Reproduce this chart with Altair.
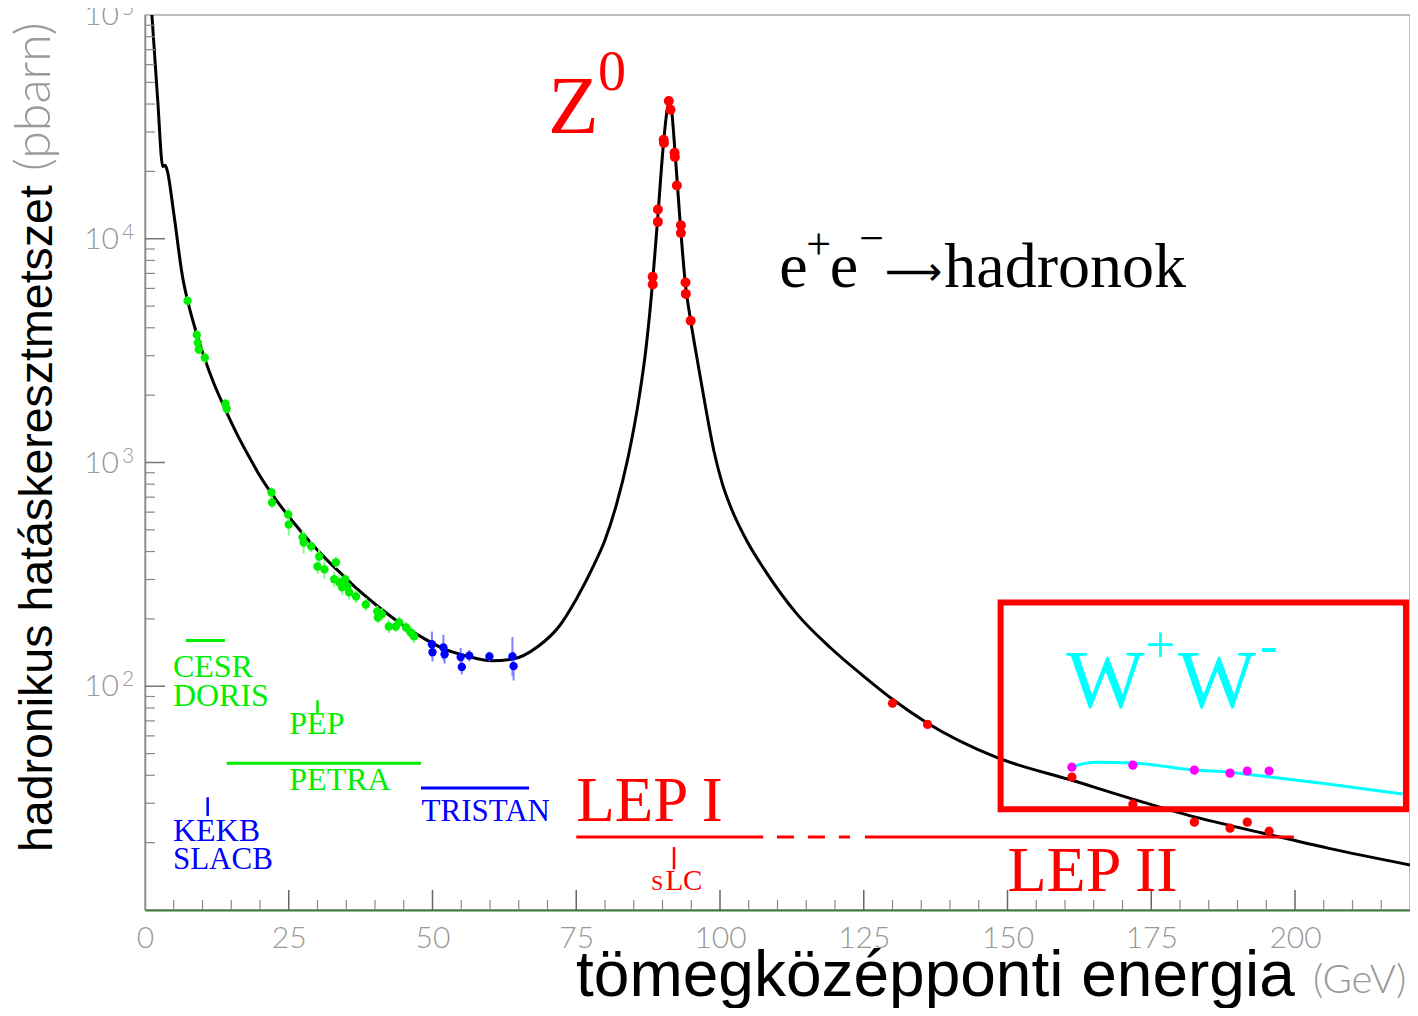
import altair as alt
import pandas as pd

# ---------------- data ----------------
curve_E = [1.2, 2.2, 3.1, 3.5, 3.9, 5.0, 6.6, 7.4, 9.0, 10.4, 12.0, 14.0, 16.0, 18.2, 20.0,
           22.2, 25.7, 28.6, 31.5, 34.3, 37.2, 40.1, 43.0, 45.9, 48.8, 52.2, 55.7, 60.3,
           63.8, 68.4, 72.0, 75.0, 78.0, 80.0, 82.0, 84.0, 86.0, 87.1, 88.3, 89.2, 90.2,
           90.8, 91.2, 91.6, 92.2, 93.0, 94.0, 94.9, 96.1, 97.5, 99.0, 100.4, 101.9, 104.8,
           107.7, 113.4, 119.2, 125.0, 130.0, 136.1, 148.0, 161.2, 171.8, 182.7, 194.3,
           205.7, 220.0]
curve_s = [100000, 42000, 21000, 21300, 20000, 13000, 6600, 5300, 3750, 2900, 2250, 1720,
           1340, 1050, 870, 715, 545, 445, 370, 315, 268, 232, 203, 180, 162, 146, 137, 130,
           132, 151, 185, 245, 345, 450, 650, 1050, 2000, 3190, 6500, 12700, 27200, 37500,
           41000, 37000, 24000, 12500, 6200, 4305, 2825, 1760, 1108, 805, 629, 440, 333, 210,
           148.6, 110.8, 87.5, 68.4, 48.2, 38.0, 31.3, 26.0, 22.1, 18.9, 15.9]

green_E = [7.4, 9.0, 9.2, 9.35, 10.4, 14.0, 14.2, 22.0, 22.1, 24.9, 25.0, 27.4, 27.6, 28.9,
           30.3, 30.0, 31.2, 33.2, 32.9, 33.8, 34.8, 34.3, 35.2, 35.5, 36.7, 38.4, 40.4,
           40.5, 41.2, 42.4, 43.6, 44.2, 45.4, 46.2, 46.8]
green_s = [5280, 3720, 3430, 3200, 2940, 1830, 1740, 734, 663, 586, 528, 463, 439, 422,
           380, 343, 333, 358, 301, 291, 301, 277, 279, 263, 252, 232, 216, 203, 210, 185,
           185, 193, 183, 174, 167]
green_err = [0.05, 0.05, 0.06, 0.05, 0.06, 0.05, 0.05, 0.06, 0.06, 0.07, 0.12, 0.07, 0.12,
             0.06, 0.08, 0.08, 0.1, 0.06, 0.08, 0.08, 0.06, 0.08, 0.06, 0.08, 0.07, 0.07,
             0.06, 0.06, 0.06, 0.07, 0.06, 0.06, 0.06, 0.07, 0.07]

blue_E = [49.9, 50.0, 51.9, 52.1, 54.9, 55.1, 56.4, 59.9, 63.9, 64.1]
blue_s = [154, 142, 149, 139, 135, 122, 137, 136, 136, 123]
blue_err = [0.14, 0.1, 0.14, 0.1, 0.1, 0.08, 0.06, 0.05, 0.22, 0.16]

zred_E = [88.3, 88.3, 89.2, 89.2, 90.2, 90.25, 91.1, 91.4, 92.1, 92.15, 92.5, 93.2, 93.2,
          94.0, 94.05, 94.9]
zred_s = [6760, 6240, 13500, 11900, 27700, 26800, 41300, 37700, 24200, 23200, 17300, 11500,
          10600, 6370, 5670, 4300]

lep_E = [130.0, 136.1, 161.2, 171.8, 182.5, 188.7, 191.7, 195.5]
lep_s = [84.0, 67.5, 39.3, 29.7, 24.7, 23.2, 24.7, 22.5]

ww_E = [161.2, 171.8, 182.5, 188.7, 191.7, 195.5]
ww_s = [43.5, 44.4, 42.2, 40.9, 41.8, 41.8]

wwcurve_E = [161.2, 163.0, 165.4, 171.8, 182.7, 188.7, 194.3, 205.7, 218.7]
wwcurve_s = [43.5, 45.0, 45.8, 45.4, 42.2, 41.3, 39.7, 36.6, 33.0]

# accelerator ranges (horizontal bars) and single-energy ticks
range_E1 = [7.1, 14.2, 48.0, 75.0, 125.2]
range_E2 = [13.9, 48.0, 66.8, 107.5, 199.8]
range_s = [160, 45.3, 35.1, 21.2, 21.2]
range_col = ["#00ee00", "#00ee00", "#0000ff", "#ff0000", "#ff0000"]

tick_E = [30.0, 10.9, 92.0]
tick_s1 = [75.7, 26.3, 15.2]
tick_s2 = [86.6, 31.9, 19.1]
tick_col = ["#00ee00", "#0000ff", "#ff0000"]

dash_E1 = [109.9]
dash_E2 = [122.6]
dash_s = [21.2]

# labels inside the plot
lab_text = ["Z", "0", "e", "+", "e", "\u2212", "hadronok",
            "CESR", "DORIS", "PEP", "PETRA", "KEKB", "SLACB", "TRISTAN",
            "LEP I", "LEP II", "S", "LC", "W", "+", "W", "-"]
lab_E = [70.1, 78.8, 110.3, 115.0, 119.1, 124.2, 139.0,
         4.85, 4.85, 25.1, 25.1, 4.85, 4.85, 48.1,
         75.0, 150.0, 88.0, 90.5, 160.2, 174.0, 179.6, 193.9]
lab_s = [29700, 46200, 6110, 8150, 6110, 8660, 6110,
         109.7, 81.5, 61, 34.4, 20.3, 15.2, 24.9,
         24.9, 12.2, 12.3, 12.3, 80.6, 128, 80.6, 127]
lab_col = ["#ff0000", "#ff0000", "#000000", "#000000", "#000000", "#000000", "#000000",
           "#00ee00", "#00ee00", "#00ee00", "#00ee00", "#0000ff", "#0000ff", "#0000ff",
           "#ff0000", "#ff0000", "#ff0000", "#ff0000", "#00ffff", "#00ffff", "#00ffff", "#00ffff"]
lab_size = [83, 56, 64, 44, 64, 44, 64,
            32, 32, 32, 32, 32, 31, 31,
            63, 64, 22, 29, 83, 53, 83, 53]

arrow_E = [128.7]
arrow_s = [6240]

box_E1, box_E2 = [148.8], [219.3]
box_s1, box_s2 = [28.2], [237]

x_label_values = [0, 25, 50, 75, 100, 125, 150, 175, 200]
x_major = [25, 50, 75, 100, 125, 150, 175, 200]
x_minor = [e for e in range(5, 220, 5) if e % 25 != 0]
y_major = [100, 1000, 10000]
y_minor = [m * d for d in [10, 100, 1000, 10000] for m in range(2, 10)]
y_label_vals = [100, 1000, 10000, 100000]
y_label_exp = ["2", "3", "4", "5"]

# ---------------- chart ----------------
xs = alt.Scale(domain=[0, 220], nice=False, zero=False)
ys = alt.Scale(type="log", domain=[10, 100000], nice=False)
X_AXIS = alt.Axis(values=x_label_values, ticks=False, grid=False,
                  domainColor="#3c7a3c", domainWidth=2,
                  labelFont="Lato", labelFontWeight=300, labelFontSize=30,
                  labelColor="#999999", labelPadding=13, title=None,
                  labelFlush=False, labelOverlap=False)
Y_AXIS = alt.Axis(labels=False, ticks=False, grid=False,
                  domainColor="#888888", domainWidth=1.5, title=None)


def X(f="E"):
    return alt.X(f"{f}:Q", scale=xs, axis=X_AXIS, title=None)


def Y(f="s"):
    return alt.Y(f"{f}:Q", scale=ys, axis=Y_AXIS, title=None)


curve = alt.Chart(pd.DataFrame({"E": curve_E, "s": curve_s})).mark_line(
    color="black", strokeWidth=3, interpolate="monotone", clip=True).encode(
    x=X(), y=Y(), order="E:Q")

xmaj = alt.Chart(pd.DataFrame({"E": x_major})).mark_rule(color="#666666", strokeWidth=1.5).encode(
    x=X(), y=alt.value(895), y2=alt.value(875))
xmin = alt.Chart(pd.DataFrame({"E": x_minor})).mark_rule(color="#888888", strokeWidth=1.2).encode(
    x=X(), y=alt.value(895), y2=alt.value(885))
ymaj = alt.Chart(pd.DataFrame({"s": y_major})).mark_rule(color="#777777", strokeWidth=1.5).encode(
    y=Y(), x=alt.value(0), x2=alt.value(20))
ymin = alt.Chart(pd.DataFrame({"s": y_minor})).mark_rule(color="#888888", strokeWidth=1.2).encode(
    y=Y(), x=alt.value(0), x2=alt.value(10))

ylab = alt.Chart(pd.DataFrame({"s": y_label_vals})).mark_text(
    align="right", baseline="alphabetic", dy=10, font="Lato", fontWeight=300, fontSize=30,
    color="#999999").encode(y=Y(), x=alt.value(-26), text=alt.value("10"))
yexp = alt.Chart(pd.DataFrame({"s": y_label_vals, "t": y_label_exp})).mark_text(
    align="left", baseline="alphabetic", dy=0, font="Lato", fontWeight=300, fontSize=21,
    color="#999999").encode(y=Y(), x=alt.value(-23), text="t:N")

gdf = pd.DataFrame({"E": green_E, "s": green_s, "e": green_err})
gdf["lo"] = gdf["s"] / (1 + gdf["e"])
gdf["hi"] = gdf["s"] * (1 + gdf["e"])
gerr = alt.Chart(gdf).mark_rule(color="#7dff7d", strokeWidth=2).encode(x=X(), y=Y("lo"), y2="hi")
gpts = alt.Chart(gdf).mark_circle(color="#00ee00", size=70, opacity=1).encode(x=X(), y=Y())

bdf = pd.DataFrame({"E": blue_E, "s": blue_s, "e": blue_err})
bdf["lo"] = bdf["s"] / (1 + bdf["e"])
bdf["hi"] = bdf["s"] * (1 + bdf["e"])
berr = alt.Chart(bdf).mark_rule(color="#7f7fff", strokeWidth=2).encode(x=X(), y=Y("lo"), y2="hi")
bpts = alt.Chart(bdf).mark_circle(color="#0000ff", size=70, opacity=1).encode(x=X(), y=Y())

zpts = alt.Chart(pd.DataFrame({"E": zred_E, "s": zred_s})).mark_circle(
    color="#ff0000", size=100, opacity=1).encode(x=X(), y=Y())
lpts = alt.Chart(pd.DataFrame({"E": lep_E, "s": lep_s})).mark_circle(
    color="#ff0000", size=85, opacity=1).encode(x=X(), y=Y())

wwline = alt.Chart(pd.DataFrame({"E": wwcurve_E, "s": wwcurve_s})).mark_line(
    color="#00ffff", strokeWidth=3, interpolate="monotone").encode(x=X(), y=Y(), order="E:Q")
wpts = alt.Chart(pd.DataFrame({"E": ww_E, "s": ww_s})).mark_circle(
    color="#ff00ff", size=85, opacity=1).encode(x=X(), y=Y())

rng = alt.Chart(pd.DataFrame({"E1": range_E1, "E2": range_E2, "s": range_s, "c": range_col})).mark_rule(
    strokeWidth=3).encode(x=X("E1"), x2="E2", y=Y(), color=alt.Color("c:N", scale=None))
dash = alt.Chart(pd.DataFrame({"E1": dash_E1, "E2": dash_E2, "s": dash_s})).mark_rule(
    strokeWidth=3, color="#ff0000", strokeDash=[17, 14]).encode(x=X("E1"), x2="E2", y=Y())
tks = alt.Chart(pd.DataFrame({"E": tick_E, "s1": tick_s1, "s2": tick_s2, "c": tick_col})).mark_rule(
    strokeWidth=2.5).encode(x=X(), y=Y("s1"), y2="s2", color=alt.Color("c:N", scale=None))

labs = alt.Chart(pd.DataFrame({"t": lab_text, "E": lab_E, "s": lab_s, "c": lab_col, "fs": lab_size})).mark_text(
    align="left", baseline="alphabetic", font="Liberation Serif").encode(
    x=X(), y=Y(), text="t:N", color=alt.Color("c:N", scale=None), size=alt.Size("fs:Q", scale=None))

arrow = alt.Chart(pd.DataFrame({"E": arrow_E, "s": arrow_s, "t": ["\u27f6"]})).mark_text(
    align="left", baseline="alphabetic", font="DejaVu Sans", fontSize=40, color="black").encode(
    x=X(), y=Y(), text="t:N")

box = alt.Chart(pd.DataFrame({"E1": box_E1, "E2": box_E2, "s1": box_s1, "s2": box_s2})).mark_rect(
    fillOpacity=0, stroke="#ff0000", strokeWidth=6).encode(x=X("E1"), x2="E2", y=Y("s1"), y2="s2")

ytitle = alt.Chart(pd.DataFrame({"t": ["hadronikus hatáskeresztmetszet"]})).mark_text(
    angle=270, align="left", baseline="alphabetic", font="Liberation Sans", fontSize=46.5,
    color="black").encode(text="t:N", x=alt.value(-93), y=alt.value(837))
yunit = alt.Chart(pd.DataFrame({"t": ["(pbarn)"]})).mark_text(
    angle=270, align="left", baseline="alphabetic", font="Lato", fontWeight=300, fontSize=50,
    color="#999999").encode(text="t:N", x=alt.value(-95), y=alt.value(156))
xtitle = alt.Chart(pd.DataFrame({"t": ["tömegközépponti energia"]})).mark_text(
    align="left", baseline="alphabetic", font="Liberation Sans", fontSize=64,
    color="black").encode(text="t:N", x=alt.value(431), y=alt.value(981))
xunit = alt.Chart(pd.DataFrame({"t": ["(GeV)"]})).mark_text(
    align="left", baseline="alphabetic", font="Lato", fontWeight=300, fontSize=40,
    color="#999999").encode(text="t:N", x=alt.value(1168), y=alt.value(978))

chart = alt.layer(
    curve, xmin, xmaj, ymin, ymaj, wwline, gerr, berr, gpts, bpts, zpts, lpts, wpts,
    rng, dash, tks, labs, arrow, box, ylab, yexp, ytitle, yunit, xtitle, xunit,
).properties(
    width=1265, height=895,
    autosize=alt.AutoSizeParams(type="none"),
    padding={"left": 137, "top": 7, "right": 0, "bottom": 98},
    background="white",
).configure_view(stroke="#aaaaaa", strokeWidth=1.5)

chart.save("out.html", embed_options={"renderer": "svg", "actions": False})
